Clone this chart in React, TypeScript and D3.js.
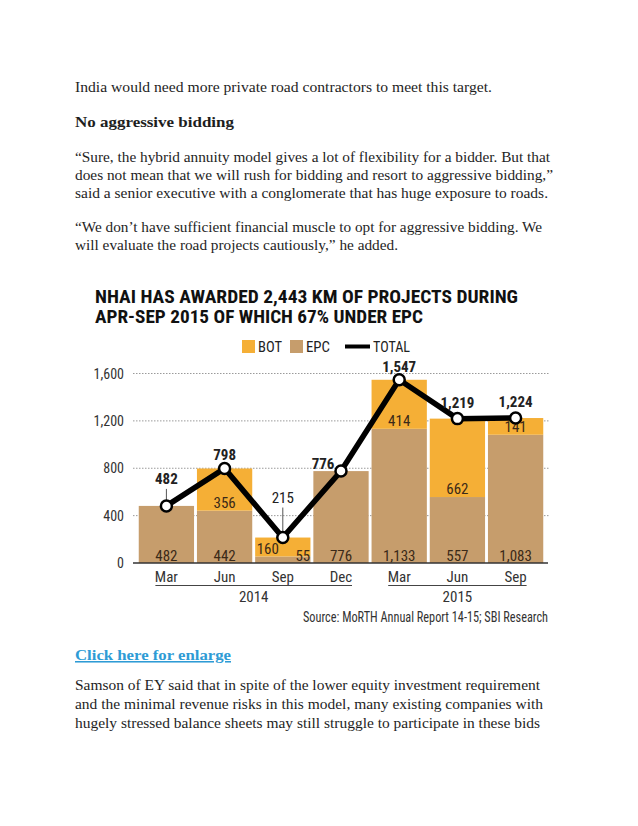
import React from 'react';
import * as d3 from 'd3';

// chart values
const periods = ['Mar 2014', 'Jun 2014', 'Sep 2014', 'Dec 2014', 'Mar 2015', 'Jun 2015', 'Sep 2015'];
const monthLabels = ['Mar', 'Jun', 'Sep', 'Dec', 'Mar', 'Jun', 'Sep'];
const epcValues = [482, 442, 55, 776, 1133, 557, 1083];
const botValues = [0, 356, 160, 0, 414, 662, 141];
const totalValues = [482, 798, 215, 776, 1547, 1219, 1224];
const yTicks = [0, 400, 800, 1200, 1600];
const years = [
  { label: '2014', from: 0, to: 3 },
  { label: '2015', from: 4, to: 6 },
];

// label placement around each TOTAL point (dx, dy, bold, leader)
const totalLabelLayout = [
  { dx: 0, dy: -22, bold: true, leader: true },
  { dx: 0, dy: -8, bold: true, leader: false },
  { dx: 0, dy: -35, bold: false, leader: true },
  { dx: -18, dy: -2, bold: true, leader: false },
  { dx: 0, dy: -8, bold: true, leader: false },
  { dx: 0, dy: -11, bold: true, leader: false },
  { dx: 0, dy: -11, bold: true, leader: false },
];

const bodyTop = [
  { t: 'India would need more private road contractors to meet this target.', y: 92, w: 417 },
  { t: 'No aggressive bidding', y: 127, w: 159, bold: true },
  { t: '\u201cSure, the hybrid annuity model gives a lot of flexibility for a bidder. But that', y: 162, w: 475 },
  { t: 'does not mean that we will rush for bidding and resort to aggressive bidding,\u201d', y: 180, w: 478 },
  { t: 'said a senior executive with a conglomerate that has huge exposure to roads.', y: 198, w: 473 },
  { t: '\u201cWe don\u2019t have sufficient financial muscle to opt for aggressive bidding. We', y: 232, w: 467 },
  { t: 'will evaluate the road projects cautiously,\u201d he added.', y: 250, w: 323 },
];
const bodyBottom = [
  { t: 'Samson of EY said that in spite of the lower equity investment requirement', y: 690, w: 465 },
  { t: 'and the minimal revenue risks in this model, many existing companies with', y: 709, w: 468 },
  { t: 'hugely stressed balance sheets may still struggle to participate in these bids', y: 728, w: 465 },
];

const BOT = '#F5AF36';
const EPC = '#C69D6C';
const SANS = '"Liberation Sans Narrow", "Roboto Condensed", Roboto, sans-serif';
const SERIF = '"Liberation Serif", Georgia, serif';

const App: React.FC = () => {
  const x = d3.scaleBand<string>().domain(periods).range([137, 545]).paddingInner(0.05).paddingOuter(0.03);
  const y = d3.scaleLinear().domain([0, 1600]).range([563, 373.5]);
  const cx = (i: number) => (x(periods[i]) as number) + x.bandwidth() / 2;

  const line = d3.line<number>()
    .x((_, i) => cx(i))
    .y(d => y(d));

  return (
    <svg width={638} height={826} style={{ position: 'absolute', left: 0, top: 0, background: '#fff' }}>
      {/* article text */}
      <g fontFamily={SERIF} fontSize={15.5} fill="#1e1e1e">
        {bodyTop.map((l, i) => (
          <text key={i} x={75} y={l.y} textLength={l.w} lengthAdjust="spacingAndGlyphs" fontWeight={l.bold ? 'bold' : 'normal'}>{l.t}</text>
        ))}
        <text x={75} y={660} textLength={156} lengthAdjust="spacingAndGlyphs" fontWeight="bold" fill="#2E9BD5" textDecoration="underline">Click here for enlarge</text>
        {bodyBottom.map((l, i) => (
          <text key={i} x={75} y={l.y} textLength={l.w} lengthAdjust="spacingAndGlyphs">{l.t}</text>
        ))}
      </g>

      {/* chart */}
      <g fontFamily={SANS}>
        <text x={95} y={303} fontSize={18} fontWeight="bold" fill="#111" textLength={423} lengthAdjust="spacingAndGlyphs">NHAI HAS AWARDED 2,443 KM OF PROJECTS DURING</text>
        <text x={95} y={322.5} fontSize={18} fontWeight="bold" fill="#111" textLength={328} lengthAdjust="spacingAndGlyphs">APR-SEP 2015 OF WHICH 67% UNDER EPC</text>

        {/* legend */}
        <rect x={242} y={340} width={13} height={13} fill={BOT} />
        <text x={258} y={352} fontSize={15} fill="#222" textLength={24} lengthAdjust="spacingAndGlyphs">BOT</text>
        <rect x={290} y={340} width={13} height={13} fill={EPC} />
        <text x={306} y={352} fontSize={15} fill="#222" textLength={24} lengthAdjust="spacingAndGlyphs">EPC</text>
        <line x1={345} x2={370} y1={346.5} y2={346.5} stroke="#000" strokeWidth={4} />
        <text x={373} y={352} fontSize={15} fill="#222" textLength={37} lengthAdjust="spacingAndGlyphs">TOTAL</text>

        {/* grid + y ticks */}
        {yTicks.map(t => (
          <g key={t}>
            {t > 0 && <line x1={133} x2={550} y1={y(t)} y2={y(t)} stroke="#9a9a9a" strokeWidth={1} strokeDasharray="1.5,1.5" />}
            <text x={124} y={y(t) + 5} fontSize={14} fill="#333" textAnchor="end">{d3.format(',')(t)}</text>
          </g>
        ))}

        {/* stacked bars */}
        {periods.map((p, i) => (
          <g key={p}>
            <rect x={x(p)} width={x.bandwidth()} y={y(epcValues[i])} height={y(0) - y(epcValues[i])} fill={EPC} />
            {botValues[i] > 0 && (
              <rect x={x(p)} width={x.bandwidth()} y={y(epcValues[i] + botValues[i])} height={y(epcValues[i]) - y(epcValues[i] + botValues[i])} fill={BOT} />
            )}
          </g>
        ))}

        {/* bar value labels */}
        {periods.map((p, i) => (
          i === 2 ? (
            <g key={p} fontSize={15} fill="#3b2a18">
              <text x={cx(i) - 15} y={554} textAnchor="middle">{botValues[i]}</text>
              <text x={cx(i) + 20} y={561} textAnchor="middle">{epcValues[i]}</text>
            </g>
          ) : (
            <g key={p} fontSize={15} fill="#3b2a18" textAnchor="middle">
              <text x={cx(i)} y={561}>{d3.format(',')(epcValues[i])}</text>
              {botValues[i] > 0 && <text x={cx(i)} y={y(epcValues[i]) - 3}>{botValues[i]}</text>}
            </g>
          )
        ))}

        {/* axis baseline */}
        <line x1={133} x2={548} y1={y(0)} y2={y(0)} stroke="#333" strokeWidth={1.5} />

        {/* total line */}
        <path d={line(totalValues) as string} fill="none" stroke="#000" strokeWidth={5.5} strokeLinejoin="miter" />
        {totalValues.map((v, i) => {
          const lay = totalLabelLayout[i];
          return (
            <g key={i}>
              {lay.leader && <line x1={cx(i)} x2={cx(i)} y1={y(v) + lay.dy + 5} y2={y(v) - 6} stroke="#555" strokeWidth={1} />}
              <text x={cx(i) + lay.dx} y={y(v) + lay.dy} textAnchor="middle" fontSize={15} fontWeight={lay.bold ? 'bold' : 'normal'} fill="#222">{d3.format(',')(v)}</text>
            </g>
          );
        })}
        {totalValues.map((v, i) => (
          <circle key={i} cx={cx(i)} cy={y(v)} r={5.5} fill="#fff" stroke="#000" strokeWidth={2.5} />
        ))}

        {/* x axis labels */}
        {monthLabels.map((m, i) => (
          <text key={i} x={cx(i)} y={582} textAnchor="middle" fontSize={15} fill="#333">{m}</text>
        ))}
        {years.map(yr => (
          <g key={yr.label}>
            <line x1={cx(yr.from) - 11} x2={cx(yr.to) + 11} y1={585.5} y2={585.5} stroke="#444" strokeWidth={1} />
            <text x={(cx(yr.from) + cx(yr.to)) / 2} y={602} textAnchor="middle" fontSize={15} fill="#333">{yr.label}</text>
          </g>
        ))}

        <text x={548} y={622} textAnchor="end" fontSize={14} fill="#333" textLength={245} lengthAdjust="spacingAndGlyphs">Source: MoRTH Annual Report 14-15; SBI Research</text>
      </g>
    </svg>
  );
};

export default App;
